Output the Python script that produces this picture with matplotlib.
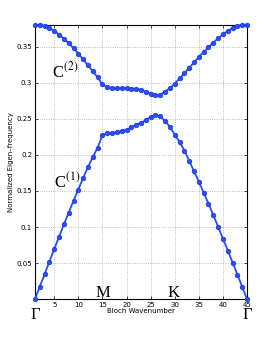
import numpy as np
import matplotlib.pyplot as plt

plt.rcParams['mathtext.fontset'] = 'stix'

# Bloch wavenumber index
k = np.arange(1, 46)

# lower band C(1)
band1 = [0.0, 0.0175, 0.0347, 0.0522, 0.0694, 0.0865, 0.1036, 0.120, 0.1365, 0.152,
         0.168, 0.183, 0.197, 0.210, 0.227, 0.230, 0.2305, 0.2315, 0.233, 0.235,
         0.238, 0.242, 0.2445, 0.248, 0.2527, 0.255, 0.2536, 0.2467, 0.239, 0.228,
         0.218, 0.206, 0.192, 0.177, 0.163, 0.1476, 0.1324, 0.1166, 0.1004, 0.0837,
         0.0675, 0.0508, 0.0342, 0.0171, 0.0]

# upper band C(2)
band2 = [0.380, 0.3795, 0.379, 0.376, 0.3717, 0.3667, 0.361, 0.3546, 0.3477, 0.3403,
         0.3324, 0.324, 0.3157, 0.3074, 0.2977, 0.2935, 0.2925, 0.2925, 0.2925, 0.292,
         0.2917, 0.2917, 0.290, 0.2875, 0.2847, 0.2828, 0.2833, 0.2875, 0.2925, 0.2986,
         0.306, 0.313, 0.3208, 0.328, 0.3356, 0.3425, 0.349, 0.3556, 0.3615, 0.367,
         0.3717, 0.3755, 0.3786, 0.3800, 0.3805]

xticks = [5, 10, 15, 20, 25, 30, 35, 40, 45]
yticks = [0.05, 0.1, 0.15, 0.2, 0.25, 0.3, 0.35]

col = '#2b4cff'

fig = plt.figure(figsize=(2.73, 3.37), dpi=100)
ax = fig.add_axes([0.128, 0.112, 0.777, 0.814])

for b in (band1, band2):
    ax.plot(k, b, '-o', color=col, lw=1.3, ms=3.2, mfc=col, mec='#1f3fe0', mew=0.6,
            clip_on=False, zorder=3)

ax.set_xlim(1, 45)
ax.set_ylim(0, 0.38)
ax.set_xticks(xticks)
ax.set_yticks(yticks)
ax.set_xticklabels([str(t) for t in xticks])
ax.set_yticklabels(['0.05', '0.1', '0.15', '0.2', '0.25', '0.3', '0.35'])
ax.tick_params(labelsize=5, length=2, width=0.5, direction='in', top=True, right=True, pad=2)
ax.grid(True, ls=':', color='#a8a8a8', lw=0.6)
for s in ax.spines.values():
    s.set_linewidth(0.8)

ax.set_xlabel('Bloch Wavenumber', fontsize=5, labelpad=0)
ax.set_ylabel('Normalized Eigen\u2013frequency', fontsize=5, labelpad=2)

serif = dict(family='Liberation Serif', fontsize=12)
ax.text(7.2, 0.316, r'C$^{(2)}$', ha='center', va='center', **serif)
ax.text(7.6, 0.163, r'C$^{(1)}$', ha='center', va='center', **serif)
ax.text(15, 0.009, 'M', ha='center', va='center', **serif)
ax.text(29.8, 0.009, 'K', ha='center', va='center', **serif)
ax.text(1, -0.022, '\u0393', ha='center', va='center', **serif)
ax.text(45, -0.022, '\u0393', ha='center', va='center', **serif)

fig.savefig('out.png', dpi=100)
